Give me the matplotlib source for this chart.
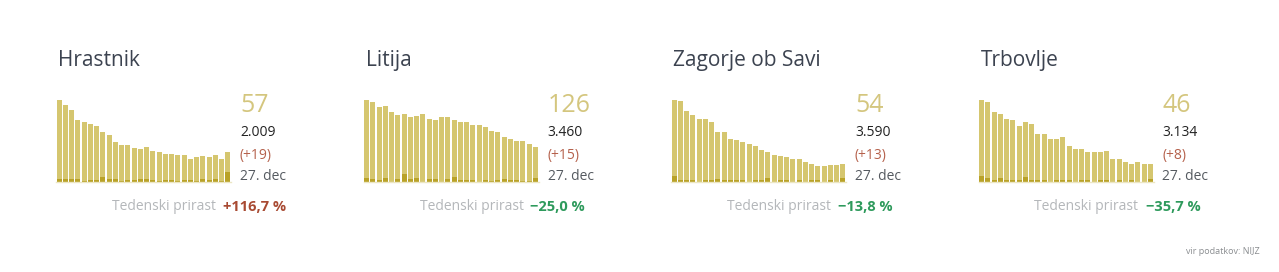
import matplotlib
matplotlib.use("Agg")
import matplotlib.pyplot as plt

plt.rcParams['font.family'] = ['Open Sans', 'DejaVu Sans']

# data (28 days, last = 27. dec)
towns = ["Hrastnik", "Litija", "Zagorje ob Savi", "Trbovlje"]
active_hrastnik = [157, 147, 138, 118, 115, 111, 107, 95, 90, 76, 70, 70, 66, 63,
                   67, 59, 57, 53, 53, 51, 51, 44, 47, 49, 47, 51, 44, 57]
new_hrastnik = [5, 5, 5, 5, 1, 4, 4, 10, 5, 5, 1, 4, 4, 5,
                5, 4, 1, 3, 4, 1, 4, 4, 1, 5, 4, 5, 1, 19]
active_litija = [297, 291, 273, 275, 254, 242, 246, 235, 239, 247, 229, 225, 235, 235,
                 225, 218, 218, 206, 206, 199, 185, 182, 164, 156, 149, 149, 138, 126]
new_litija = [15, 12, 6, 15, 1, 12, 28, 12, 15, 1, 12, 12, 1, 12,
              18, 8, 8, 8, 1, 8, 4, 8, 12, 6, 6, 4, 2, 15]
active_zagorje = [250, 248, 217, 204, 192, 192, 182, 152, 152, 132, 128, 121, 115, 110,
                  98, 91, 82, 80, 75, 70, 70, 61, 54, 50, 48, 51, 51, 54]
new_zagorje = [18, 6, 6, 6, 1, 6, 6, 10, 6, 6, 6, 6, 1, 6,
               6, 12, 1, 6, 6, 1, 6, 1, 6, 6, 1, 6, 1, 13]
active_trbovlje = [213, 208, 182, 176, 163, 161, 146, 155, 150, 124, 124, 111, 111, 117,
                   93, 85, 85, 77, 77, 77, 80, 59, 59, 51, 46, 51, 46, 46]
new_trbovlje = [16, 10, 4, 10, 4, 4, 4, 14, 5, 4, 5, 1, 4, 5,
                4, 1, 4, 4, 1, 4, 5, 1, 5, 1, 4, 1, 1, 8]
current = ["57", "126", "54", "46"]
totals = ["2.009", "3.460", "3.590", "3.134"]
daily = ["(+19)", "(+15)", "(+13)", "(+8)"]
growth = ["+116,7 %", "\u221225,0 %", "\u221213,8 %", "\u221235,7 %"]
date_label = "27. dec"

actives = [active_hrastnik, active_litija, active_zagorje, active_trbovlje]
news = [new_hrastnik, new_litija, new_zagorje, new_trbovlje]

W, H = 1279, 272
fig = plt.figure(figsize=(W / 100, H / 100), dpi=100)
fig.patch.set_facecolor("white")


def fx(x):
    return x / W


def fy(y):
    return 1 - y / H


light = "#d5c66f"
dark = "#b9a228"
for i, town in enumerate(towns):
    x0 = 56 + i * 307.5
    ax = fig.add_axes([fx(x0), fy(182), 175 / W, 82 / H])
    n = len(actives[i])
    ax.bar(range(n), actives[i], width=0.8, color=light, linewidth=0)
    ax.bar(range(n), news[i], width=0.8, color=dark, linewidth=0)
    ax.set_xlim(-0.5, n - 0.5)
    ax.set_ylim(0, max(actives[i]))
    ax.axis("off")
    ax.axhline(0, color="#ece6c4", lw=1.0, clip_on=False)

    fig.text(fx(x0 + 2), fy(60.5), town, fontsize=15, color="#3c4350", va="center")
    tx = x0 + 184
    fig.text(fx(tx), fy(106), current[i], fontsize=18, color="#d4c67e", va="center")
    fig.text(fx(tx), fy(132), totals[i], fontsize=10, color="#222222", va="center")
    fig.text(fx(tx), fy(155), daily[i], fontsize=10, color="#b5614c", va="center")
    fig.text(fx(tx), fy(177), date_label, fontsize=10, color="#555a60", va="center")
    gcol = "#a84a32" if growth[i].startswith("+") else "#2e9a5c"
    fig.text(fx(x0 + 160), fy(207), "Tedenski prirast", fontsize=10, color="#b4b7ba",
             va="center", ha="right")
    fig.text(fx(x0 + 167), fy(207), growth[i], fontsize=10.5, color=gcol,
             va="center", fontweight="bold")

fig.text(fx(1260), fy(252), "vir podatkov: NIJZ", fontsize=6.5, color="#8a8d90",
         va="center", ha="right")

fig.savefig("out.png", dpi=100)
